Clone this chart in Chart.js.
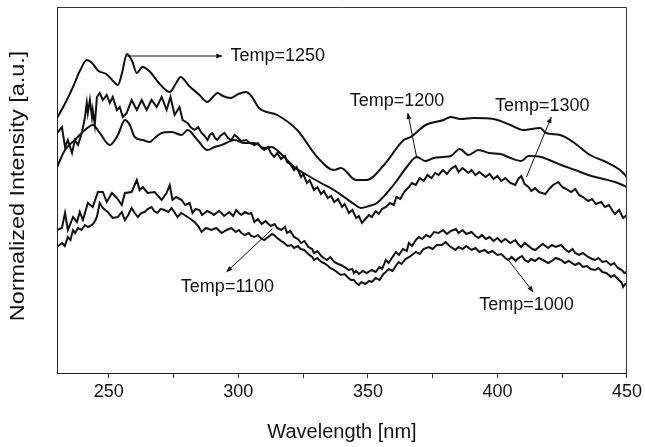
<!DOCTYPE html>
<html>
<head>
<meta charset="utf-8">
<script src="https://cdn.jsdelivr.net/npm/chart.js@4.4.1/dist/chart.umd.min.js"></script>
<style>
  html, body { margin: 0; padding: 0; background: #fff; }
</style>
</head>
<body>
<canvas id="spectra" width="645" height="447"></canvas>
<script>
// wavelength [nm], normalized intensity [a.u.]
const s1250 = [[230,255],[233,269],[236,285],[239,303],[241.5,313],[243.5,310],[246,302],[249,299],[252,291],[253.5,288],[255,299],[257,319],[259,312],[260.8,300],[263,306],[266,301],[269,291],[273.5,281],[276,290],[277.7,296],[281,287],[285,278],[288,271],[290.5,277],[292,280],[294,277],[297,275],[300,279],[303,281],[305,277],[308,265],[315,258],[322.7,243],[330.4,216],[336.9,203],[339.6,205],[345.4,193],[349.6,193],[356.2,208],[363.8,233],[366.5,236],[372.3,248],[379.2,253],[381.9,256],[385.8,254],[390.8,255],[398.5,254],[405,248],[410,243],[416.5,245],[418.8,240],[424.2,238],[429.2,231],[435.8,218],[441.9,211],[447.3,203],[450,196]];

const s1200 = [[230,206],[233.1,223],[236.9,233],[240.8,243],[243.8,248],[246.5,240],[250.4,228],[253.5,238],[256.2,253],[258.1,248],[260,236],[263.1,233],[265.8,231],[267.7,235],[270.4,240],[274.2,241],[278.1,238],[280.4,243],[284.2,233],[288.1,223],[290.8,226],[293.5,228],[298.5,233],[302.3,230],[306.2,230],[310,225],[312.7,226],[316.9,218],[321.5,206],[326.5,198],[331.9,190],[336.9,183],[340.8,176],[344.6,169],[347.3,165],[350.4,167],[353.5,170],[357.3,180],[360.5,190],[365,206],[368.8,216],[372.3,212],[375.4,215],[379.2,216],[382,217],[385.5,224],[388.8,218],[392.7,223],[397,220],[401.2,219],[405,215],[409.2,212],[412,217],[416.9,216],[420,213],[424.6,208],[430,203],[435,198],[441,194],[445.4,191],[450,186]];

const s1300 = [[230,240],[231.9,246],[233.1,226],[234.2,233],[235.8,220],[236.9,233],[238.1,228],[239.6,240],[240.8,256],[241.5,270],[241.9,260],[242.7,273],[243.5,256],[243.8,263],[244.6,248],[245.4,276],[246.5,280],[247.7,273],[249.2,278],[250.4,270],[251.5,276],[253.1,263],[254.2,266],[255.4,256],[256.9,260],[258.8,273],[260.8,263],[262.7,273],[264.6,263],[266.5,273],[268.5,266],[270.4,276],[272.3,263],[273.8,276],[275.4,258],[277.3,266],[278.5,253],[280.4,250],[281.5,246],[283.1,243],[284.5,246],[285.8,240],[287,237],[288.1,233],[289,238],[290,240],[291,235],[291.9,233],[293,237],[294.6,240],[296,235],[297.3,233],[298.5,238],[299.6,236],[301,232],[303.1,233],[304.5,230],[306.2,228],[307.5,230],[309,225],[310,223],[311.5,226],[312.5,220],[313.8,216],[315,220],[316.5,214],[318,217],[318.8,211],[320,209],[321.5,203],[322.5,206],[324.2,196],[325,199],[326.5,190],[327.5,193],[329.2,183],[330.5,186],[331.9,179],[333,182],[334.5,175],[335.8,177],[337,171],[338.5,174],[340,166],[341,169],[342.7,160],[344,163],[345.5,155],[346.5,157],[347.7,150],[349,154],[350.4,158],[351.5,156],[353,162],[354.2,159],[355.4,164],[357,166],[358.5,170],[360,168],[361,176],[362.5,174],[364,181],[365.8,186],[367,190],[368.5,188],[370,195],[371.5,192],[373,198],[374.5,195],[376,200],[377.3,198],[379,203],[380.5,199],[382,204],[383.8,207],[385,201],[386.5,205],[388.8,200],[390,203],[391.5,198],[393,201],[395.4,196],[397,199],[398.5,194],[400,197],[401.5,192],[403,195],[405,190],[406.9,188],[408,194],[409.2,197],[410.5,189],[412,186],[413.1,182],[414.5,185],[416,181],[418.5,179],[420,184],[421.5,188],[423.5,191],[425,186],[426.5,184],[428.5,181],[430,184],[431.5,178],[433,176],[435,172],[436.5,174],[438,169],[440,171],[441.5,166],[443,168],[444.5,162],[445.4,159],[447,163],[448.5,155],[450,158]];

const s1100 = [[230,143],[231.9,145],[233.1,160],[234.2,143],[236.2,156],[237.7,151],[238.8,161],[240,153],[241.9,170],[243.8,166],[245.8,181],[247.7,181],[249.2,171],[251.2,180],[253.1,175],[255,168],[256.2,180],[258.8,181],[260.8,193],[261.9,183],[263.1,186],[265,180],[267.7,181],[270.4,173],[272.3,180],[273.5,188],[274.6,173],[276,176],[278.1,173],[279.5,168],[281.2,170],[282.3,160],[283.5,164],[285,163],[286,158],[288,162],[289.6,160],[290.5,158],[292.5,162],[293.5,160],[294.5,157],[296.5,161],[298,157],[299.2,163],[300.2,160],[301.2,158],[302.5,161],[304,159],[305,160],[306.2,151],[307.5,154],[309,149],[310.5,152],[311.2,150],[312.5,147],[314,149],[315,145],[316.5,143],[318,146],[318.8,140],[320,142],[321.5,136],[323,134],[324.2,130],[325.5,132],[327,126],[328.5,124],[329.2,120],[330.5,122],[332,117],[333,115],[334.2,113],[335.5,116],[337,111],[338.5,109],[339.6,108],[341,106],[342.5,103],[344,104],[344.6,100],[345.5,102],[346.5,99],[348,102],[349.5,100],[351.5,103],[353,101],[354.5,106],[355.5,104],[356.9,113],[358,110],[359.5,116],[360.8,121],[362,118],[363.5,124],[365,122],[365.8,130],[367,127],[368.5,133],[369.6,136],[371,134],[372.5,138],[374,136],[375.5,141],[377.3,140],[379,143],[380.5,139],[382,142],[384,144],[385,140],[386.5,143],[388,139],[390,141],[391.5,137],[392.7,135],[394,138],[395.5,134],[397,136],[398.5,132],[400,135],[401.5,131],[403,134],[405,130],[406.9,133],[408,129],[409.2,126],[410.5,130],[412,127],[413.5,124],[414.6,123],[416,126],[417.5,129],[419.6,125],[421,128],[422.5,126],[424.6,128],[426,124],[427.5,121],[429,124],[430,120],[431.5,118],[433,120],[435,116],[436.5,114],[437.7,113],[439,115],[440.5,111],[442,112],[443.8,108],[445,110],[446.5,105],[448,103],[449,100],[450,101]];

const s1000 = [[230,126],[231.9,130],[233,127],[234.2,136],[235.2,133],[236.2,143],[237,140],[238.1,145],[239.5,143],[240.8,148],[242,146],[243.5,148],[244.5,151],[245.4,156],[246.5,170],[247.7,165],[249.6,161],[251.5,155],[253.5,156],[255,161],[256.2,153],[257.5,158],[258.8,165],[260,160],[261.2,156],[262.5,160],[263.8,161],[265,164],[266.5,166],[267.5,162],[268.8,160],[270,164],[271.5,163],[273,161],[274.2,165],[275.5,160],[276.5,156],[278,160],[279.2,158],[281,155],[283.1,151],[284.5,147],[285.8,141],[287.5,145],[289.6,143],[291.5,145],[293.5,140],[295.5,143],[297.3,145],[299,141],[300.2,143],[301.2,140],[302.5,138],[304,140],[305,137],[306.2,136],[307.5,138],[309,134],[310,133],[311.5,136],[313,139],[313.8,138],[315,135],[316.5,132],[317.7,130],[319,127],[320.5,128],[321.5,125],[323,127],[324,124],[325.4,123],[327,119],[328.5,116],[329.2,113],[330.5,115],[332,111],[333,110],[334.2,108],[335.5,105],[337,103],[338.5,100],[339.6,98],[341,99],[342.5,95],[343.5,93],[344.6,93],[345.5,90],[346.5,88],[347.5,91],[349,89],[350.5,92],[351.5,91],[353,95],[354.5,93],[356,99],[356.9,101],[358,104],[359.5,102],[361,108],[361.9,111],[363,109],[364.5,114],[366,116],[367.5,119],[368.5,121],[370,119],[371.5,124],[373.5,126],[375,124],[376.5,128],[378.5,128],[380,131],[381.5,127],[383.8,123],[385,126],[386.5,124],[388,127],[390,123],[391.5,125],[393,121],[395,123],[396.5,120],[398,122],[400,118],[401.5,119],[403,115],[404.2,113],[405.5,116],[407,112],[408.1,115],[409.5,117],[410.5,113],[411.9,111],[413,114],[414.5,112],[416,115],[417.5,113],[419.6,110],[421,112],[422.5,115],[424.6,113],[426,110],[427.5,112],[430,108],[431.5,110],[433,106],[434.5,107],[436,104],[437.7,103],[439,105],[440.5,101],[442,100],[443.8,96],[445,98],[446.5,94],[448,90],[448.5,86],[449.3,89],[450,88]];

const xTicks = [250, 275, 300, 325, 350, 375, 400, 425, 450];

// label text, label centre, arrow tail (on curve) and arrow head, in data units
const notes = [
  { text: 'Temp=1250', at: [315.2, 317], from: [256.9, 317], to: [293.8, 317] },
  { text: 'Temp=1200', at: [361.2, 272], from: [368.8, 216], to: [365.4, 260] },
  { text: 'Temp=1300', at: [417.3, 267], from: [411.2, 196], to: [420.8, 256] },
  { text: 'Temp=1100', at: [295.8, 86], from: [313.1, 144], to: [295.4, 101] },
  { text: 'Temp=1000', at: [411.2, 68], from: [404.2, 113], to: [413.8, 81] }
];

const FONT = "'Liberation Sans', Arial, sans-serif";
const INK = '#111';
const yTitle = 'Normalized Intensity [a.u.]';

function toPoints(pairs) {
  return pairs.map(p => ({ x: p[0], y: p[1] }));
}

const frameAndNotes = {
  id: 'frameAndNotes',
  afterDraw(chart) {
    const { ctx, chartArea: a, scales: { x, y } } = chart;
    ctx.save();
    // top + right border
    ctx.strokeStyle = '#333';
    ctx.lineWidth = 1;
    ctx.beginPath();
    ctx.moveTo(a.left, a.top + 0.5);
    ctx.lineTo(a.right - 0.5, a.top + 0.5);
    ctx.lineTo(a.right - 0.5, a.bottom);
    ctx.stroke();

    // y title, the original is a bit stretched along its length
    ctx.save();
    ctx.translate(18, (a.top + a.bottom) / 2 - 4);
    ctx.rotate(-Math.PI / 2);
    ctx.scale(1.17, 1);
    ctx.font = '20px ' + FONT;
    ctx.fillStyle = INK;
    ctx.textAlign = 'center';
    ctx.textBaseline = 'middle';
    ctx.fillText(yTitle, 0, 0);
    ctx.restore();

    ctx.font = '18px ' + FONT;
    ctx.fillStyle = INK;
    ctx.textBaseline = 'middle';
    ctx.textAlign = 'center';
    notes.forEach(n => {
      const x0 = x.getPixelForValue(n.from[0]), y0 = y.getPixelForValue(n.from[1]);
      const x1 = x.getPixelForValue(n.to[0]), y1 = y.getPixelForValue(n.to[1]);
      ctx.strokeStyle = INK;
      ctx.lineWidth = 1;
      ctx.beginPath();
      ctx.moveTo(x0, y0);
      ctx.lineTo(x1, y1);
      ctx.stroke();
      const ang = Math.atan2(y1 - y0, x1 - x0);
      ctx.beginPath();
      ctx.moveTo(x1, y1);
      ctx.lineTo(x1 - 6 * Math.cos(ang) + 2.5 * Math.sin(ang), y1 - 6 * Math.sin(ang) - 2.5 * Math.cos(ang));
      ctx.lineTo(x1 - 6 * Math.cos(ang) - 2.5 * Math.sin(ang), y1 - 6 * Math.sin(ang) + 2.5 * Math.cos(ang));
      ctx.closePath();
      ctx.fill();
      ctx.fillText(n.text, x.getPixelForValue(n.at[0]), y.getPixelForValue(n.at[1]));
    });
    ctx.restore();
  }
};

function line(label, pairs, smooth) {
  return {
    label,
    data: toPoints(pairs),
    borderColor: INK,
    borderWidth: 2,
    pointRadius: 0,
    fill: false,
    tension: smooth ? 0.4 : 0,
    cubicInterpolationMode: smooth ? 'monotone' : 'default'
  };
}

new Chart(document.getElementById('spectra'), {
  type: 'line',
  data: {
    datasets: [
      line('Temp=1250', s1250, true),
      line('Temp=1200', s1200, true),
      line('Temp=1300', s1300, false),
      line('Temp=1100', s1100, false),
      line('Temp=1000', s1000, false)
    ]
  },
  options: {
    responsive: false,
    animation: false,
    layout: { padding: { left: 0, top: 7, right: 16, bottom: 0 } },
    plugins: {
      legend: { display: false },
      tooltip: { enabled: false }
    },
    scales: {
      x: {
        type: 'linear',
        min: 230,
        max: 450,
        afterBuildTicks: s => { s.ticks = xTicks.map(v => ({ value: v })); },
        afterFit: s => { s.height = 74; },
        grid: { drawOnChartArea: false, drawTicks: true, tickLength: 5, color: '#333' },
        border: { color: '#222', width: 1 },
        ticks: {
          autoSkip: false,
          maxRotation: 0,
          padding: 3,
          color: INK,
          font: { family: FONT, size: 18 },
          callback: v => (v % 50 === 0 ? String(v) : '')
        },
        title: {
          display: true,
          text: 'Wavelength [nm]',
          color: INK,
          font: { family: FONT, size: 20 },
          padding: { top: 0, bottom: 3 }
        }
      },
      y: {
        min: 0,
        max: 366,
        afterFit: s => { s.width = 57; },
        grid: { display: false },
        border: { color: '#222', width: 1 },
        ticks: { display: false },
        title: { display: false }
      }
    }
  },
  plugins: [frameAndNotes]
});
</script>
</body>
</html>
